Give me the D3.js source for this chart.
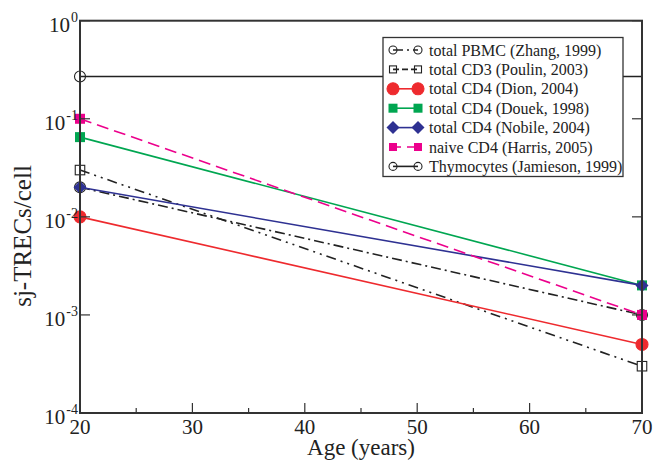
<!DOCTYPE html>
<html lang="en">
<head>
  <meta charset="UTF-8">
  <title>sj-TRECs vs age</title>
  <script src="https://cdn.jsdelivr.net/npm/d3@7"></script>
  <style>
    body { margin: 0; background: #fff; }
    svg text { font-family: "Liberation Serif", "DejaVu Serif", serif; fill: #222; }
  </style>
</head>
<body>
  <div id="container"></div>
  <script>
    const svg_width = 669;
    const svg_height = 460;
    const margin = { left: 80, right: 27, top: 20.7, bottom: 47 };
    const serif = "Liberation Serif, DejaVu Serif, serif";

    // data
    var ages = [20, 70];
    var pbmcZhang = [0.02, 0.001];
    var cd3Poulin = [0.03, 0.0003];
    var cd4Dion = [0.01, 0.0005];
    var cd4Douek = [0.065, 0.002];
    var cd4Nobile = [0.02, 0.002];
    var naiveHarris = [0.1, 0.001];
    var thymoJamieson = [0.27, 0.27];
    var seriesNames = ["total PBMC (Zhang, 1999)", "total CD3 (Poulin, 2003)", "total CD4 (Dion, 2004)",
      "total CD4 (Douek, 1998)", "total CD4 (Nobile, 2004)", "naive CD4 (Harris, 2005)", "Thymocytes (Jamieson, 1999)"];
    var xTicks = [20, 30, 40, 50, 60, 70];
    var xMinorTicks = [25, 35, 45, 55, 65];
    var yTickExps = [0, -1, -2, -3, -4];

    // style per series
    var series = [
      { name: seriesNames[0], values: pbmcZhang, color: "#222", dash: "10,4,2,4", shape: "circle", fill: "none", size: 5.5, legSize: 4 },
      { name: seriesNames[1], values: cd3Poulin, color: "#222", dash: "10,5,2,5,2,5", shape: "square", fill: "none", size: 9.5, legSize: 7, legDash: "6,3" },
      { name: seriesNames[2], values: cd4Dion, color: "#ee2a2e", dash: null, shape: "circle", fill: "#ee2a2e", size: 6, legSize: 6 },
      { name: seriesNames[3], values: cd4Douek, color: "#00a651", dash: null, shape: "square", fill: "#00a651", size: 10, legSize: 9 },
      { name: seriesNames[4], values: cd4Nobile, color: "#2e3192", dash: null, shape: "diamond", fill: "#2e3192", size: 6.5, legSize: 6.5 },
      { name: seriesNames[5], values: naiveHarris, color: "#ec008c", dash: "12,6", shape: "square", fill: "#ec008c", size: 10, legSize: 8, legDash: "8,6" },
      { name: seriesNames[6], values: thymoJamieson, color: "#222", dash: null, shape: "circle", fill: "none", size: 5.5, legSize: 4, markLast: false }
    ];

    var svg = d3.select("#container")
      .append("svg")
      .attr("width", svg_width)
      .attr("height", svg_height);

    var x_scale = d3.scaleLinear()
      .domain([20, 70])
      .range([margin.left, svg_width - margin.right]);

    var y_scale = d3.scaleLog()
      .domain([1e-4, 1])
      .range([svg_height - margin.bottom, margin.top]);

    var x0 = x_scale.range()[0], x1 = x_scale.range()[1];
    var y0 = y_scale.range()[0], y1 = y_scale.range()[1];

    // marker drawing
    function drawMarker(g, shape, cx, cy, s, color, fill) {
      if (shape === "circle") {
        g.append("circle").attr("cx", cx).attr("cy", cy).attr("r", s)
          .attr("fill", fill).attr("stroke", color).attr("stroke-width", 1.1);
      } else if (shape === "square") {
        g.append("rect").attr("x", cx - s / 2).attr("y", cy - s / 2).attr("width", s).attr("height", s)
          .attr("fill", fill).attr("stroke", fill === "none" ? color : "none").attr("stroke-width", 1.1);
      } else {
        g.append("path")
          .attr("d", "M" + (cx - s) + "," + cy + "L" + cx + "," + (cy - s) + "L" + (cx + s) + "," + cy + "L" + cx + "," + (cy + s) + "Z")
          .attr("fill", fill);
      }
    }

    // lines and markers
    var line = d3.line()
      .x(function (d) { return x_scale(d[0]); })
      .y(function (d) { return y_scale(d[1]); });

    var plot = svg.append("g");
    series.forEach(function (s) {
      var pts = ages.map(function (a, i) { return [a, s.values[i]]; });
      plot.append("path")
        .attr("d", line(pts))
        .attr("fill", "none")
        .attr("stroke", s.color)
        .attr("stroke-width", 1.6)
        .attr("stroke-dasharray", s.dash);
      pts.forEach(function (p, i) {
        if (s.markLast === false && i === pts.length - 1) return;
        drawMarker(plot, s.shape, x_scale(p[0]), y_scale(p[1]), s.size, s.color, s.fill);
      });
    });

    // frame
    var axisColor = "#333";
    svg.append("rect")
      .attr("x", x0).attr("y", y1)
      .attr("width", x1 - x0).attr("height", y0 - y1)
      .attr("fill", "none").attr("stroke", axisColor).attr("stroke-width", 2);

    // ticks, pointing inward (bottom, left, right)
    var ticks = svg.append("g").attr("stroke", axisColor).attr("stroke-width", 1.2);
    xTicks.forEach(function (t) {
      ticks.append("line").attr("x1", x_scale(t)).attr("x2", x_scale(t)).attr("y1", y0).attr("y2", y0 - 10);
    });
    xMinorTicks.forEach(function (t) {
      ticks.append("line").attr("x1", x_scale(t)).attr("x2", x_scale(t)).attr("y1", y0).attr("y2", y0 - 5);
    });
    yTickExps.forEach(function (e) {
      var y = y_scale(Math.pow(10, e));
      ticks.append("line").attr("x1", x0).attr("x2", x0 + 10).attr("y1", y).attr("y2", y);
      ticks.append("line").attr("x1", x1).attr("x2", x1 - 10).attr("y1", y).attr("y2", y);
    });

    // tick labels
    svg.append("g").selectAll("text")
      .data(xTicks)
      .enter()
      .append("text")
      .attr("x", function (d) { return x_scale(d); })
      .attr("y", y0 + 21)
      .attr("text-anchor", "middle")
      .attr("font-family", serif)
      .attr("font-size", 21)
      .text(function (d) { return d; });

    var yLabels = svg.append("g").selectAll("text")
      .data(yTickExps)
      .enter()
      .append("text")
      .attr("x", x0 - 2)
      .attr("y", function (d) { return y_scale(Math.pow(10, d)) + 11; })
      .attr("text-anchor", "end")
      .attr("font-family", serif)
      .attr("font-size", 21);
    yLabels.append("tspan").text("10");
    yLabels.append("tspan")
      .attr("dy", -10)
      .attr("dx", 1)
      .attr("font-size", 14)
      .text(function (d) { return d === 0 ? "0" : "-" + Math.abs(d); });

    // axis titles
    svg.append("text")
      .attr("x", (x0 + x1) / 2)
      .attr("y", 455)
      .attr("text-anchor", "middle")
      .attr("font-family", serif)
      .attr("font-size", 23)
      .text("Age (years)");

    svg.append("text")
      .attr("transform", "translate(31,236) rotate(-90)")
      .attr("text-anchor", "middle")
      .attr("font-family", serif)
      .attr("font-size", 25)
      .text("sj-TRECs/cell");

    // legend
    var legend = svg.append("g");
    legend.append("rect")
      .attr("x", 383).attr("y", 37.5)
      .attr("width", 240).attr("height", 139)
      .attr("fill", "#fff").attr("stroke", axisColor).attr("stroke-width", 1.3);
    series.forEach(function (s, i) {
      var cy = 50 + i * 19.4;
      legend.append("line")
        .attr("x1", 393).attr("x2", 418).attr("y1", cy).attr("y2", cy)
        .attr("stroke", s.color).attr("stroke-width", 1.6)
        .attr("stroke-dasharray", s.legDash || s.dash);
      drawMarker(legend, s.shape, 393, cy, s.legSize, s.color, s.fill);
      drawMarker(legend, s.shape, 418, cy, s.legSize, s.color, s.fill);
      legend.append("text")
        .attr("x", 429).attr("y", cy + 5.5)
        .attr("font-family", serif)
        .attr("font-size", 16)
        .text(s.name);
    });
  </script>
</body>
</html>
